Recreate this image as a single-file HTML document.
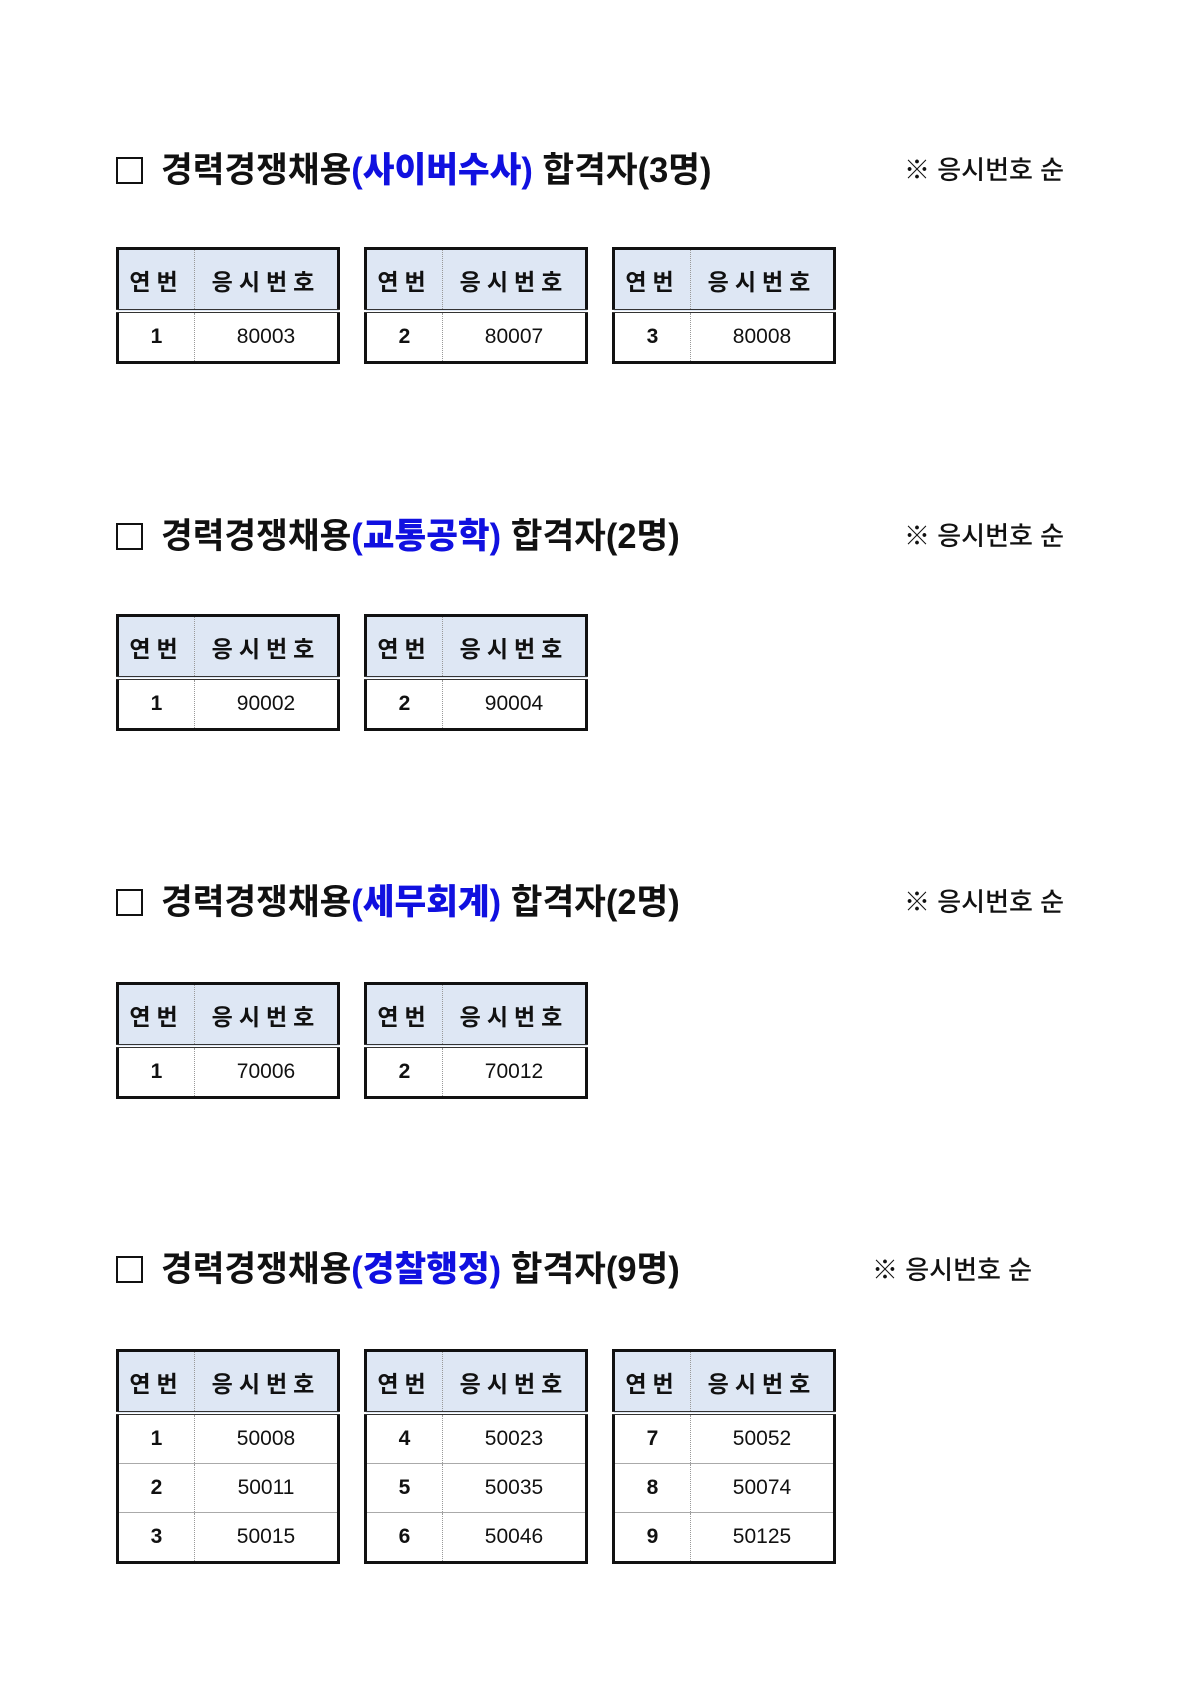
<!DOCTYPE html>
<html><head><meta charset="utf-8"><style>
body{margin:0;width:1190px;height:1684px;background:#fff;position:relative;font-family:"Liberation Sans","Noto Sans CJK KR",sans-serif;overflow:hidden}
.h{position:absolute;left:116px;height:40px;white-space:nowrap}
.box{position:absolute;left:0;top:7px;width:23px;height:23px;border:2px solid #111}
.ht{position:absolute;left:45px;top:-8px;font-size:35px;font-weight:bold;transform:scaleX(0.985);transform-origin:left;color:#111}
.ht b{color:#1010e0}
.note{position:absolute;font-size:26px;color:#111;white-space:nowrap;font-weight:500}
table{position:absolute;border-collapse:collapse;border:3px solid #111;width:224px}
td{height:48px;text-align:center;font-size:21px;color:#111;padding:0}
td.a{width:75px;font-weight:bold;border-right:1px dotted #999}
tr.hd td{height:59px;background:#dee7f4;font-weight:bold;font-size:23px;letter-spacing:6px;border-bottom:4px double #333}
tr.r td{border-top:1px solid #aaa}
</style></head><body>

<div class="h" style="top:150px"><div class="box"></div><div class="ht">경력경쟁채용<b>(사이버수사)</b> 합격자(3명)</div></div>
<div class="note" style="left:904px;top:150px">※ 응시번호 순</div>
<table style="left:116px;top:247px"><tr class="hd"><td class="a">연번</td><td>응시번호</td></tr><tr><td class="a">1</td><td>80003</td></tr></table>
<table style="left:364px;top:247px"><tr class="hd"><td class="a">연번</td><td>응시번호</td></tr><tr><td class="a">2</td><td>80007</td></tr></table>
<table style="left:612px;top:247px"><tr class="hd"><td class="a">연번</td><td>응시번호</td></tr><tr><td class="a">3</td><td>80008</td></tr></table>

<div class="h" style="top:516px"><div class="box"></div><div class="ht">경력경쟁채용<b>(교통공학)</b> 합격자(2명)</div></div>
<div class="note" style="left:904px;top:516px">※ 응시번호 순</div>
<table style="left:116px;top:614px"><tr class="hd"><td class="a">연번</td><td>응시번호</td></tr><tr><td class="a">1</td><td>90002</td></tr></table>
<table style="left:364px;top:614px"><tr class="hd"><td class="a">연번</td><td>응시번호</td></tr><tr><td class="a">2</td><td>90004</td></tr></table>

<div class="h" style="top:882px"><div class="box"></div><div class="ht">경력경쟁채용<b>(세무회계)</b> 합격자(2명)</div></div>
<div class="note" style="left:904px;top:882px">※ 응시번호 순</div>
<table style="left:116px;top:982px"><tr class="hd"><td class="a">연번</td><td>응시번호</td></tr><tr><td class="a">1</td><td>70006</td></tr></table>
<table style="left:364px;top:982px"><tr class="hd"><td class="a">연번</td><td>응시번호</td></tr><tr><td class="a">2</td><td>70012</td></tr></table>

<div class="h" style="top:1249px"><div class="box"></div><div class="ht">경력경쟁채용<b>(경찰행정)</b> 합격자(9명)</div></div>
<div class="note" style="left:872px;top:1250px">※ 응시번호 순</div>
<table style="left:116px;top:1349px"><tr class="hd"><td class="a">연번</td><td>응시번호</td></tr><tr><td class="a">1</td><td>50008</td></tr><tr class="r"><td class="a">2</td><td>50011</td></tr><tr class="r"><td class="a">3</td><td>50015</td></tr></table>
<table style="left:364px;top:1349px"><tr class="hd"><td class="a">연번</td><td>응시번호</td></tr><tr><td class="a">4</td><td>50023</td></tr><tr class="r"><td class="a">5</td><td>50035</td></tr><tr class="r"><td class="a">6</td><td>50046</td></tr></table>
<table style="left:612px;top:1349px"><tr class="hd"><td class="a">연번</td><td>응시번호</td></tr><tr><td class="a">7</td><td>50052</td></tr><tr class="r"><td class="a">8</td><td>50074</td></tr><tr class="r"><td class="a">9</td><td>50125</td></tr></table>

</body></html>
